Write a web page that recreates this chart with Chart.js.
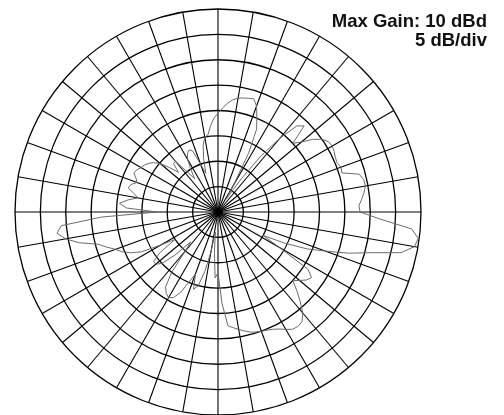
<!DOCTYPE html>
<html>
<head>
<meta charset="utf-8">
<script src="https://cdn.jsdelivr.net/npm/chart.js@4.4.1/dist/chart.umd.min.js"></script>
<style>
  html, body { margin: 0; padding: 0; background: #fff; }
  #wrap { position: relative; width: 504px; height: 415px; overflow: hidden; }
  #note { position: absolute; right: 17px; top: 11px; text-align: right;
          font-family: "Liberation Sans", Arial, sans-serif; font-size: 18.5px;
          font-weight: bold; line-height: 19px; color: #111; }
</style>
</head>
<body>
<div id="wrap">
  <canvas id="c" width="504" height="415"></canvas>
  <div id="note">Max Gain: 10 dBd<br>5 dB/div</div>
</div>
<script>
// Bearing step (degrees, clockwise from top) of the pattern samples
const angleStepDeg = 2.5;
// Radial axis: dB, 5 dB per division
const rMinDb = -30;
const rMaxDb = 10;
const rStepDb = 5;
// Grid spokes every 10 degrees
const spokeEveryDeg = 10;

// Gain (dB), one value every 2.5 degrees starting at 0 (top)
const gainDb = [
  -10.5, -9.5, -8.5, -7.7, -7.2, -7, -6.8, -6.6, -7.8, -10,      // 0 - 22.5
  -12, -17, -24, -27, -22, -16, -11, -7, -6, -10,                // 25 - 47.5
  -8.5, -6.5, -5, -4.2, -4, -4.2, -4.5, -4.6, -4.2, -4.4,        // 50 - 72.5
  -1.2, -0.6, -0.5, -1, -1.6, -2.2, -2, 2, 8.3, 9.8,             // 75 - 97.5
  9.3, 7, 1, -3, -7.5, -11, -15.4, -20, -16, -9,                 // 100 - 122.5
  -7.5, -8, -9, -10, -8, -6, -4, -2.8, -2.5, -2.6,               // 125 - 147.5
  -3.3, -4, -4.5, -4.8, -5, -5.2, -5.5, -6, -6.5, -7,            // 150 - 172.5
  -7.5, -12, -18, -17, -22, -26, -22, -18, -15, -14,             // 175 - 197.5
  -17, -15, -12.5, -11, -10.5, -11, -12, -15, -20, -22,          // 200 - 222.5
  -18, -15, -14, -14, -16, -20, -17, -13, -11, -9.5,             // 225 - 247.5
  -8.5, -7, -5.5, -2, 0.5, 2, 1, -7, -18, -12,                   // 250 - 272.5
  -10.5, -12, -14, -13, -11.7, -12, -13, -12.5, -11.7, -12,      // 275 - 297.5
  -12.5, -12.8, -13.3, -14, -15.2, -17, -19, -17, -17, -20,      // 300 - 322.5
  -22, -20, -18, -17, -16.5, -17, -20, -22, -19, -16.5,          // 325 - 347.5
  -15, -14.7, -13, -11.5                                         // 350 - 357.5
];

const bearingLabels = gainDb.map((_, i) => (i * angleStepDeg) + '\u00B0');
const spokeIndexStep = spokeEveryDeg / angleStepDeg;

new Chart(document.getElementById('c'), {
  type: 'radar',
  data: {
    labels: bearingLabels,
    datasets: [{
      data: gainDb,
      borderColor: '#6a6a6a',
      borderWidth: 1,
      fill: false,
      pointRadius: 0,
      tension: 0
    }]
  },
  options: {
    responsive: false,
    animation: false,
    devicePixelRatio: 1,
    layout: { padding: { left: 15, right: 83, top: 9, bottom: 0 } },
    plugins: { legend: { display: false }, tooltip: { enabled: false } },
    scales: {
      r: {
        min: rMinDb,
        max: rMaxDb,
        startAngle: 0,
        ticks: { display: false, stepSize: rStepDb },
        pointLabels: { display: false },
        grid: { circular: true, color: '#000', lineWidth: 1.3 },
        angleLines: {
          display: true,
          color: '#000',
          lineWidth: (ctx) => (ctx.index % spokeIndexStep === 0 ? 1.1 : 0)
        }
      }
    }
  }
});
</script>
</body>
</html>
